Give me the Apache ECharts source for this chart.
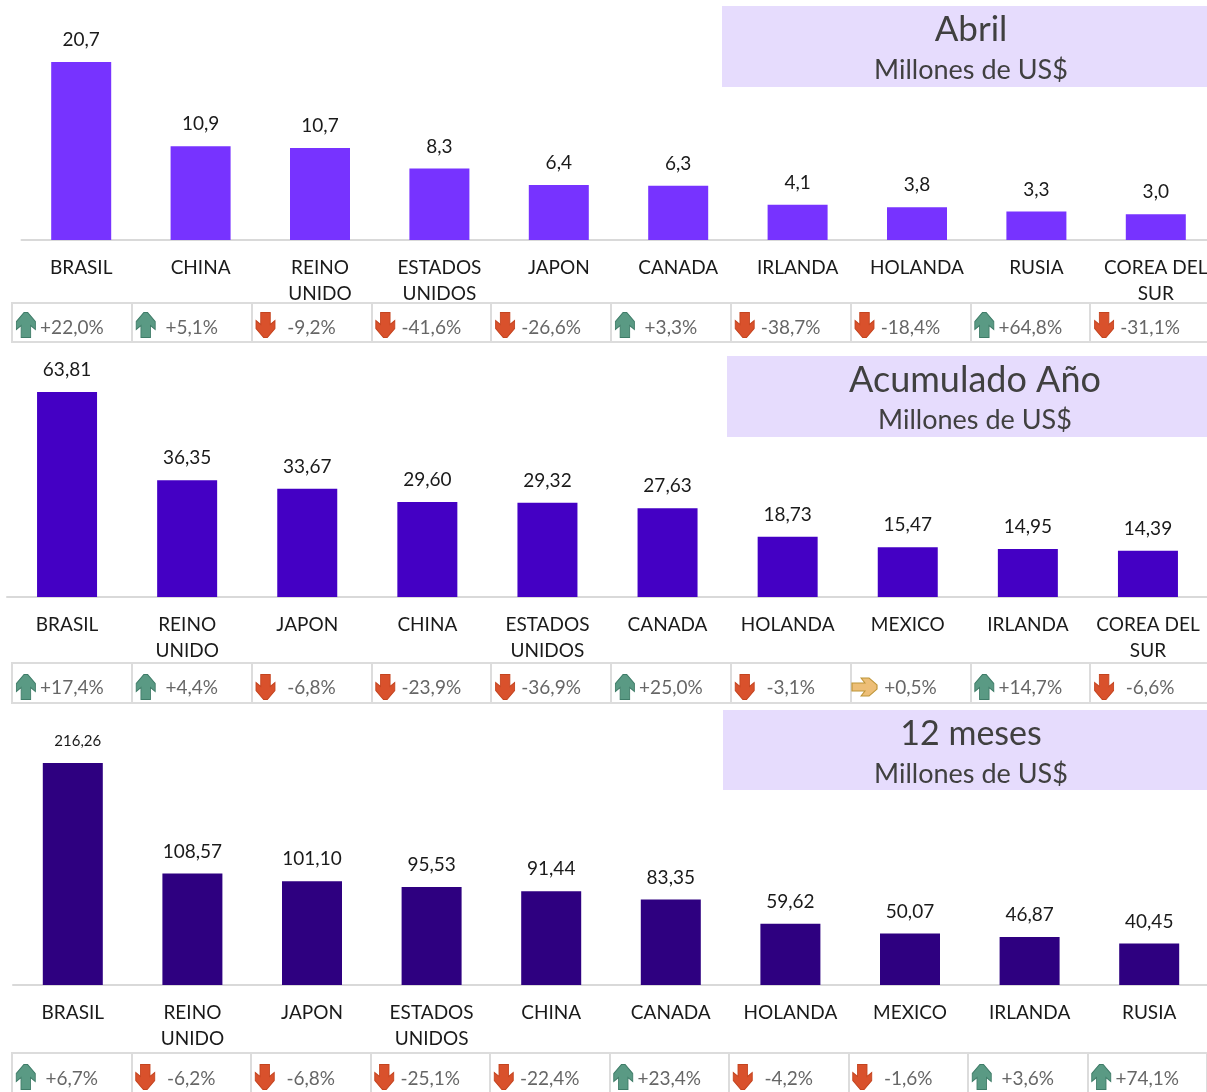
<!DOCTYPE html>
<html><head><meta charset="utf-8">
<style>html,body{margin:0;padding:0;background:#fff;overflow:hidden}#c{width:1207px;height:1092px}</style>
<script src="https://cdn.jsdelivr.net/npm/echarts@6/dist/echarts.min.js"></script>
</head><body><div id="c"></div>
<script>
const categoriesAbril = ["BRASIL","CHINA","REINO\nUNIDO","ESTADOS\nUNIDOS","JAPON","CANADA","IRLANDA","HOLANDA","RUSIA","COREA DEL\nSUR"];
const valuesAbril = [20.7,10.9,10.7,8.3,6.4,6.3,4.1,3.8,3.3,3.0];
const changesAbril = [22.0,5.1,-9.2,-41.6,-26.6,3.3,-38.7,-18.4,64.8,-31.1];

const categoriesAcum = ["BRASIL","REINO\nUNIDO","JAPON","CHINA","ESTADOS\nUNIDOS","CANADA","HOLANDA","MEXICO","IRLANDA","COREA DEL\nSUR"];
const valuesAcum = [63.81,36.35,33.67,29.60,29.32,27.63,18.73,15.47,14.95,14.39];
const changesAcum = [17.4,4.4,-6.8,-23.9,-36.9,25.0,-3.1,0.5,14.7,-6.6];

const categories12 = ["BRASIL","REINO\nUNIDO","JAPON","ESTADOS\nUNIDOS","CHINA","CANADA","HOLANDA","MEXICO","IRLANDA","RUSIA"];
const values12 = [216.26,108.57,101.10,95.53,91.44,83.35,59.62,50.07,46.87,40.45];
const changes12 = [6.7,-6.2,-6.8,-25.1,-22.4,23.4,-4.2,-1.6,3.6,74.1];

const FONT = 'Lato';
const UP = 'path://M8 0 L12 0 L20 9 L20 17 L15 13 L15 25 L5 25 L5 13 L0 17 L0 9 Z';
const DOWN = 'path://M5 0 L15 0 L15 12 L20 8 L20 16 L12 25 L8 25 L0 16 L0 8 L5 12 Z';
const RIGHT = 'path://M0 5 L13 5 L9 0 L17 0 L25 7 L25 11 L17 18 L9 18 L13 13 L0 13 Z';

const panels = [
  {cats:categoriesAbril, vals:valuesAbril, chg:changesAbril, dec:1, color:'#7733FF',
   left:21.5,width:1194,top:30,height:210,max:24.42, tLeft:12,tWidth:1198,tTop:303,tH:39,arrowY:-0.13,textDy:5,
   box:[722,6,485,81], title:'Abril', tSize:35, cx:971, ty:30, sy:70},
  {cats:categoriesAcum, vals:valuesAcum, chg:changesAcum, dec:2, color:'#4400C4',
   left:7,width:1201,top:360,height:237,max:73.77, tLeft:12,tWidth:1198,tTop:663,tH:40,arrowY:-0.2,textDy:5,
   box:[727,356,480,81], title:'Acumulado Año', tSize:36, cx:975, ty:380, sy:420},
  {cats:categories12, vals:values12, chg:changes12, dec:2, color:'#2E0080',
   left:13,width:1196,top:730,height:255,max:248.4, tLeft:12,tWidth:1195,tTop:1053,tH:40,arrowY:-0.2,textDy:6,
   box:[723,710,484,80], title:'12 meses', tSize:34, cx:971, ty:734, sy:774}
];

const grid=[], xAxis=[], yAxis=[], series=[], graphic=[];
panels.forEach((p,k)=>{
  const a=k*2, b=k*2+1;
  grid.push({left:p.left,top:p.top,width:p.width,height:p.height,containLabel:false,outerBoundsMode:'none'});
  grid.push({left:p.tLeft,top:p.tTop,width:p.tWidth,height:p.tH,show:true,borderColor:'#dcdcdc',borderWidth:2,backgroundColor:'transparent',outerBoundsMode:'none'});
  xAxis.push({gridIndex:a,type:'category',data:p.cats,axisTick:{show:false},
    axisLine:{lineStyle:{color:'#d9d9d9',width:2}},
    axisLabel:{interval:0,color:'#1a1a1a',fontFamily:FONT,fontSize:19,lineHeight:26,margin:15,verticalAlign:'top',overflow:'none'}});
  yAxis.push({gridIndex:a,type:'value',min:0,max:p.max,show:false,splitLine:{show:false}});
  xAxis.push({gridIndex:b,type:'category',data:p.cats,axisTick:{show:false},axisLabel:{show:false},axisLine:{show:false},
    splitLine:{show:true,interval:0,lineStyle:{color:'#dcdcdc',width:2}}});
  yAxis.push({gridIndex:b,type:'value',min:-1,max:1,show:false,splitLine:{show:false}});
  series.push({type:'bar',xAxisIndex:a,yAxisIndex:a,barWidth:60,itemStyle:{color:p.color},
    data:p.vals.map(v=>v>=200?{value:v,label:{fontSize:15,distance:14,offset:[5,0]}}:v),
    label:{show:true,position:'top',distance:12.5,color:'#1a1a1a',fontFamily:FONT,fontSize:19,
      formatter:o=>o.value.toFixed(p.dec).replace('.',',')},silent:true});
  // arrows in the change strip
  series.push({type:'scatter',xAxisIndex:b,yAxisIndex:b,symbolOffset:[-46,0],silent:true,z:3,
    data:p.chg.map((c,i)=>{
      const flat=Math.abs(c)<1;
      return {value:[i,p.arrowY],
        symbol:flat?RIGHT:(c>0?UP:DOWN),
        symbolSize:flat?[25,18]:[19,25],
        itemStyle:{opacity:1,color:flat?'#EDBE76':(c>0?'#5A9A84':'#D9512C'),
          borderColor:flat?'#BE9538':(c>0?'#3F7C68':'#C4441F'),borderWidth:1}};
    })});
  // change text
  series.push({type:'scatter',xAxisIndex:b,yAxisIndex:b,symbol:'circle',symbolSize:1,silent:true,z:4,
    itemStyle:{color:'transparent'},
    data:p.chg.map((c,i)=>[i,0]),
    label:{show:true,position:'inside',offset:[0,p.textDy],color:'#404040',fontFamily:FONT,fontSize:19,
      formatter:o=>{const c=p.chg[o.dataIndex];return (c>0?'+':'')+c.toFixed(1).replace('.',',')+'%';}}});
  graphic.push({type:'rect',z:-1,shape:{x:p.box[0],y:p.box[1],width:p.box[2],height:p.box[3]},style:{fill:'#E6DCFD'}});
  graphic.push({type:'text',z:5,x:p.cx,y:p.ty,style:{text:p.title,fill:'#404040',font:p.tSize+'px '+FONT,textAlign:'center',textVerticalAlign:'middle'}});
  graphic.push({type:'text',z:5,x:p.cx,y:p.sy,style:{text:'Millones de US$',fill:'#404040',font:'27px '+FONT,textAlign:'center',textVerticalAlign:'middle'}});
});

const chart=echarts.init(document.getElementById('c'),null,{renderer:'canvas'});
chart.setOption({animation:false,backgroundColor:'#fff',grid,xAxis,yAxis,series,graphic});
</script></body></html>
